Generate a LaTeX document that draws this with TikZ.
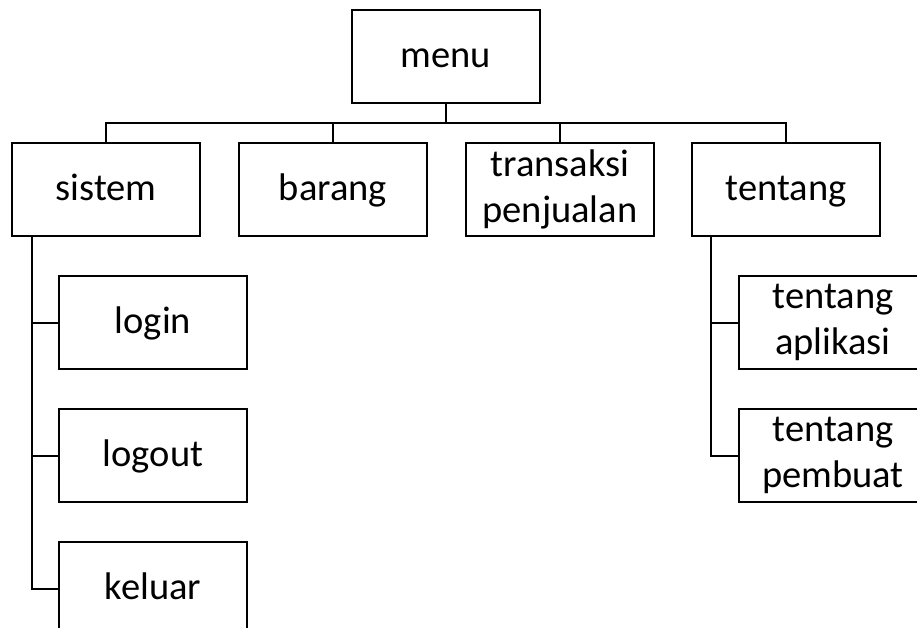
\documentclass[tikz,border=0pt]{standalone}
\usepackage{fontspec}
\setmainfont{Carlito}
\begin{document}
\begin{tikzpicture}[x=1pt,y=-1pt,line width=2pt,
  box/.style={draw=black,fill=white,minimum width=188pt,minimum height=93pt,inner sep=0pt,
    font=\fontsize{38.5}{46}\selectfont},
  onel/.style={box,text height=30pt,text depth=8pt},
  twol/.style={box,align=center}]
\useasboundingbox (0,0) rectangle (917,628);
\clip (0,0) rectangle (917,628);
\coordinate (bus) at (0,123);
\coordinate (sspine) at (32,0);
\coordinate (tspine) at (711,0);
\node[onel] (menu) at (446,57) {menu};
\node[onel] (sistem) at (106,189.5) {sistem};
\node[onel] (barang) at (333,189.5) {barang};
\node[twol] (transaksi) at (560,189.5) {transaksi\\penjualan};
\node[onel] (tentang) at (786,189.5) {tentang};
\node[onel] (login) at (153,322.5) {login};
\node[onel] (logout) at (153,455.5) {logout};
\node[onel] (keluar) at (153,588.5) {keluar};
\node[twol] (taplikasi) at (833,322.5) {tentang\\aplikasi};
\node[twol] (tpembuat) at (833,455.5) {tentang\\pembuat};
\draw (menu.south) -- (menu.south |- bus);
\draw (sistem.north) -- (sistem.north |- bus) -- (tentang.north |- bus) -- (tentang.north);
\draw (barang.north) -- (barang.north |- bus);
\draw (transaksi.north) -- (transaksi.north |- bus);
\draw (sistem.south -| sspine) |- (keluar.west);
\draw (sspine |- login.west) -- (login.west);
\draw (sspine |- logout.west) -- (logout.west);
\draw (tentang.south -| tspine) |- (tpembuat.west);
\draw (tspine |- taplikasi.west) -- (taplikasi.west);
\end{tikzpicture}
\end{document}
